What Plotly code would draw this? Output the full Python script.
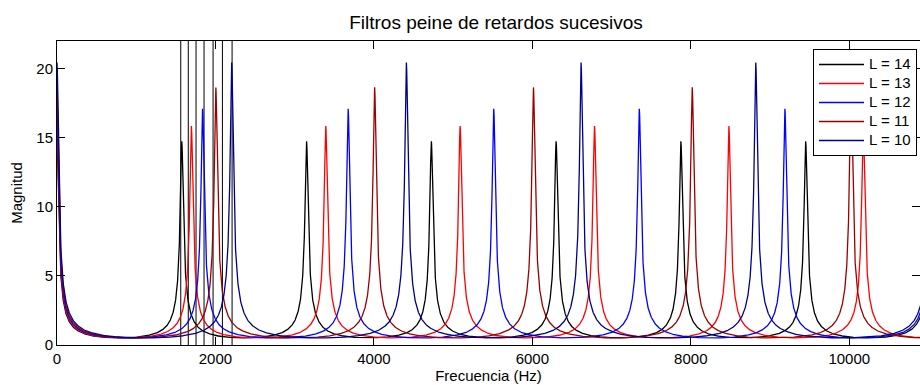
import numpy as np
import plotly.graph_objects as go

# Values
sample_rate = 22050                      # Hz (peaks at multiples of fs/L)
delays = [14, 13, 12, 11, 10]            # comb delay L of each curve
peak_heights = [14.75, 15.85, 17.1, 18.65, 20.45]   # peak magnitude of each curve
colors = ["#000000", "#ff0000", "#0000ff", "#990000", "#00008b"]
marker_freqs = [1562, 1657, 1755, 1856, 1970, 2088, 2210]  # thin vertical lines
x_ticks = [0, 2000, 4000, 6000, 8000, 10000]
y_ticks = [0, 5, 10, 15, 20]

FONT = "Liberation Sans, Arial, Helvetica, sans-serif"

freqs = np.linspace(0, sample_rate / 2, 8001)
omega = 2 * np.pi * freqs / sample_rate

fig = go.Figure()

# vertical marker lines
vx, vy = [], []
for f in marker_freqs:
    vx += [f, f, None]
    vy += [0, 22, None]
fig.add_trace(go.Scatter(x=vx, y=vy, mode="lines", line=dict(color="black", width=1),
                         showlegend=False, hoverinfo="skip"))

for L, peak, c in zip(delays, peak_heights, colors):
    g = 1 - 1 / peak
    mag = 1 / np.abs(1 - g * np.exp(-1j * omega * L))
    fig.add_trace(go.Scatter(x=freqs, y=mag, mode="lines",
                             line=dict(color=c, width=1.3),
                             name=f'<span style="font-size:15px">L = {L}</span>'))

axis_common = dict(showline=True, linecolor="black", linewidth=1, mirror="ticks",
                   ticks="inside", ticklen=8, tickcolor="black", showgrid=False,
                   zeroline=False, tickfont=dict(family=FONT, size=15, color="black"))

fig.update_layout(
    width=920, height=385,
    margin=dict(l=57, r=0, t=41, b=40, autoexpand=False),
    paper_bgcolor="white", plot_bgcolor="white",
    title=dict(text="Filtros peine de retardos sucesivos", x=496 / 920, xref="container",
               xanchor="center", y=1 - 22 / 385, yref="container", yanchor="middle",
               font=dict(family=FONT, size=19, color="black")),
    xaxis=dict(range=[0, 10893], tickvals=x_ticks, ticktext=[str(t) for t in x_ticks],
               title=dict(text="Frecuencia (Hz)", font=dict(family=FONT, size=15, color="black"),
                          standoff=2),
               **axis_common),
    yaxis=dict(range=[0, 22], tickvals=y_ticks, ticktext=[str(t) for t in y_ticks],
               title=dict(text="Magnitud", font=dict(family=FONT, size=15, color="black"),
                          standoff=10),
               **axis_common),
    legend=dict(x=(813 - 57) / 863, y=(345 - 49) / 304, xanchor="left", yanchor="top",
                bgcolor="white", bordercolor="black", borderwidth=1,
                font=dict(family=FONT, size=12.3, color="black"),
                itemwidth=45, tracegroupgap=0),
    showlegend=True,
)

fig.write_html("out.html")
